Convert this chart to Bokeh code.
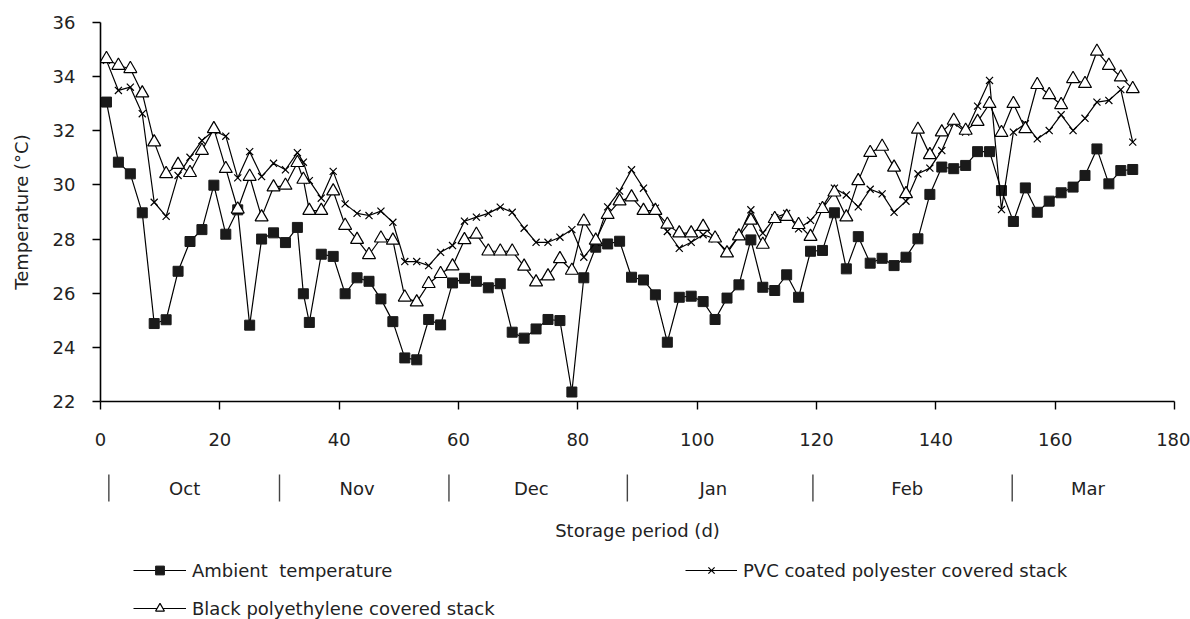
from bokeh.plotting import figure
from bokeh.layouts import column
from bokeh.models import (Range1d, FixedTicker, Legend, LegendItem,
                          ColumnDataSource)
from bokeh.core.properties import value
from bokeh.embed import file_html
from bokeh.resources import INLINE

# ---------------- data ----------------
days = [1, 3, 5, 7, 9, 11, 13, 15, 17, 19, 21, 23, 25, 27, 29, 31, 33, 34, 35,
        37, 39, 41, 43, 45, 47, 49, 51, 53, 55, 57, 59, 61, 63, 65, 67, 69, 71,
        73, 75, 77, 79, 81, 83, 85, 87, 89, 91, 93, 95, 97, 99, 101, 103, 105,
        107, 109, 111, 113, 115, 117, 119, 121, 123, 125, 127, 129, 131, 133,
        135, 137, 139, 141, 143, 145, 147, 149, 151, 153, 155, 157, 159, 161,
        163, 165, 167, 169, 171, 173]

ambient = [33.06, 30.84, 30.41, 28.97, 24.88, 25.02, 26.81, 27.91, 28.35, 29.99,
           28.18, 29.08, 24.82, 28.00, 28.23, 27.87, 28.43, 25.98, 24.92,
           27.44, 27.36, 25.98, 26.57, 26.44, 25.79, 24.95, 23.61, 23.54, 25.03,
           24.83, 26.38, 26.55, 26.44, 26.20, 26.35, 24.56, 24.34, 24.68, 25.03,
           24.99, 22.35, 26.57, 27.70, 27.82, 27.92, 26.59, 26.49, 25.94, 24.19,
           25.85, 25.89, 25.69, 25.03, 25.82, 26.31, 27.97, 26.22, 26.10, 26.68,
           25.85, 27.55, 27.58, 28.97, 26.90, 28.09, 27.11, 27.29, 27.02, 27.33,
           28.01, 29.65, 30.66, 30.60, 30.72, 31.23, 31.23, 29.79, 28.65, 29.89,
           28.99, 29.40, 29.71, 29.92, 30.35, 31.33, 30.04, 30.53, 30.57]

pvc = [34.60, 33.49, 33.61, 32.63, 29.36, 28.84, 30.35, 31.02, 31.64, 32.01,
       31.80, 30.26, 31.23, 30.31, 30.80, 30.56, 31.19, 30.84, 30.16,
       29.51, 30.50, 29.30, 28.95, 28.87, 29.03, 28.62, 27.17, 27.17, 27.02,
       27.51, 27.76, 28.66, 28.81, 28.95, 29.18, 28.99, 28.40, 27.88, 27.88,
       28.07, 28.35, 27.33, 27.88, 29.19, 29.77, 30.56, 29.88, 29.14, 28.28,
       27.66, 27.88, 28.16, 28.01, 27.54, 28.13, 29.08, 28.22, 28.79, 28.95,
       28.38, 28.69, 29.20, 29.88, 29.63, 29.19, 29.84, 29.67, 28.99, 29.40,
       30.41, 30.62, 31.27, 32.29, 31.95, 32.91, 33.86, 29.09, 31.95, 32.26,
       31.70, 32.01, 32.59, 32.01, 32.46, 33.06, 33.12, 33.52, 31.58]

black = [34.66, 34.41, 34.29, 33.39, 31.58, 30.41, 30.75, 30.45, 31.27, 32.07,
         30.60, 29.10, 30.31, 28.81, 29.92, 29.98, 30.82, 30.20, 29.05,
         29.05, 29.77, 28.50, 27.98, 27.42, 28.03, 27.95, 25.85, 25.67, 26.35,
         26.72, 27.00, 27.97, 28.17, 27.55, 27.55, 27.55, 26.99, 26.41, 26.63,
         27.27, 26.84, 28.66, 27.95, 28.90, 29.40, 29.55, 29.05, 29.05, 28.54,
         28.22, 28.22, 28.46, 28.03, 27.48, 28.11, 28.69, 27.80, 28.75, 28.83,
         28.53, 28.09, 29.12, 29.73, 28.81, 30.15, 31.19, 31.42, 30.65, 29.67,
         32.05, 31.11, 31.95, 32.38, 32.01, 32.34, 33.00, 31.93, 33.00, 32.07,
         33.70, 33.33, 32.96, 33.92, 33.74, 34.93, 34.41, 33.98, 33.55]

x_ticks = [0, 20, 40, 60, 80, 100, 120, 140, 160, 180]
y_ticks = [22, 24, 26, 28, 30, 32, 34, 36]

months = ["Oct", "Nov", "Dec", "Jan", "Feb", "Mar"]
month_centers = [14.1, 43.0, 72.2, 102.7, 135.2, 165.5]
month_edges = [1.4, 30.0, 58.4, 88.3, 119.4, 152.8, 180.5]

x_title = "Storage period (d)"
y_title = "Temperature (°C)"
series_names = ["Ambient  temperature",
                "PVC coated polyester covered stack",
                "Black polyethylene covered stack"]

FONT = "DejaVu Sans"
FS = "18px"
TXT = "#222222"

x_range = Range1d(0, 180)

# ---------------- main chart ----------------
p = figure(width=1190, height=455, output_backend="svg", toolbar_location=None,
           x_range=x_range, y_range=Range1d(22, 36),
           min_border_left=100, min_border_right=16, min_border_top=22,
           min_border_bottom=54)
p.outline_line_color = None
p.background_fill_color = "white"
p.border_fill_color = "white"
p.xgrid.visible = False
p.ygrid.visible = False

for ax in (p.xaxis[0], p.yaxis[0]):
    ax.axis_line_color = "black"
    ax.axis_line_width = 1.6
    ax.major_tick_line_color = "black"
    ax.major_tick_line_width = 1.4
    ax.major_tick_in = 0
    ax.major_tick_out = 8
    ax.minor_tick_line_color = None
    ax.major_label_text_font = FONT
    ax.major_label_text_font_size = FS
    ax.major_label_text_color = TXT
    ax.axis_label_text_font = FONT
    ax.axis_label_text_font_size = FS
    ax.axis_label_text_font_style = "normal"
    ax.axis_label_text_color = TXT

p.xaxis[0].ticker = FixedTicker(ticks=x_ticks)
p.yaxis[0].ticker = FixedTicker(ticks=y_ticks)
p.xaxis[0].major_label_standoff = 23
p.yaxis[0].major_label_standoff = 17
p.yaxis[0].axis_label = y_title
p.yaxis[0].axis_label_standoff = 18

src = ColumnDataSource(dict(day=days, amb=ambient, pvc=pvc, blk=black))

p.line("day", "amb", source=src, line_color="black", line_width=1.2)
p.scatter("day", "amb", source=src, marker="square", size=10,
          fill_color="#1a1a1a", line_color="#1a1a1a")
p.line("day", "pvc", source=src, line_color="black", line_width=1.2)
p.scatter("day", "pvc", source=src, marker="x", size=10,
          line_color="black", line_width=1.2)
p.line("day", "blk", source=src, line_color="black", line_width=1.2)
p.scatter("day", "blk", source=src, marker="triangle", size=13,
          fill_color="white", line_color="black", line_width=1.2)

# ---------------- month row, axis title, legend ----------------
q = figure(width=1190, height=164, output_backend="svg", toolbar_location=None,
           x_range=x_range, y_range=Range1d(164, 0),
           x_axis_type=None, y_axis_type=None,
           min_border_left=100, min_border_right=16, min_border_top=0,
           min_border_bottom=0)
q.outline_line_color = None
q.background_fill_color = "white"
q.border_fill_color = "white"

q.segment(x0=month_edges, x1=month_edges, y0=19, y1=46,
          line_color="#444444", line_width=1.4)
q.text(x=month_centers, y=[33] * len(months), text=months,
       text_align="center", text_baseline="middle",
       text_font=value(FONT), text_font_size=FS, text_color=TXT)
q.text(x=[90], y=[75], text=[x_title], text_align="center",
       text_baseline="middle", text_font=value(FONT), text_font_size=FS,
       text_color=TXT)

# legend proxies (placed outside the visible range, so only the key shows)
kx, ky = [-30, -20], [0, 0]
la = q.line(kx, ky, line_color="black", line_width=1.2)
sa = q.scatter(kx, ky, marker="square", fill_color="#1a1a1a",
               line_color="#1a1a1a")
lp = q.line(kx, ky, line_color="black", line_width=1.2)
sp = q.scatter(kx, ky, marker="x", line_color="black", line_width=1.2)
lb = q.line(kx, ky, line_color="black", line_width=1.2)
sb = q.scatter(kx, ky, marker="triangle", fill_color="white",
               line_color="black", line_width=1.2)


def make_legend(items, loc, gw):
    return Legend(items=items, location=loc, orientation="vertical",
                  glyph_width=gw, glyph_height=22, label_height=22,
                  label_standoff=6, spacing=16, padding=0, margin=0,
                  border_line_color=None, background_fill_alpha=0,
                  label_text_font=FONT, label_text_font_size=FS,
                  label_text_color=TXT)


q.add_layout(make_legend(
    [LegendItem(label=series_names[0], renderers=[la, sa]),
     LegendItem(label=series_names[2], renderers=[lb, sb])], (33, 0), 53))
q.add_layout(make_legend(
    [LegendItem(label=series_names[1], renderers=[lp, sp])], (585, 38), 52))

open("out.html", "w").write(file_html(column(p, q), INLINE))
